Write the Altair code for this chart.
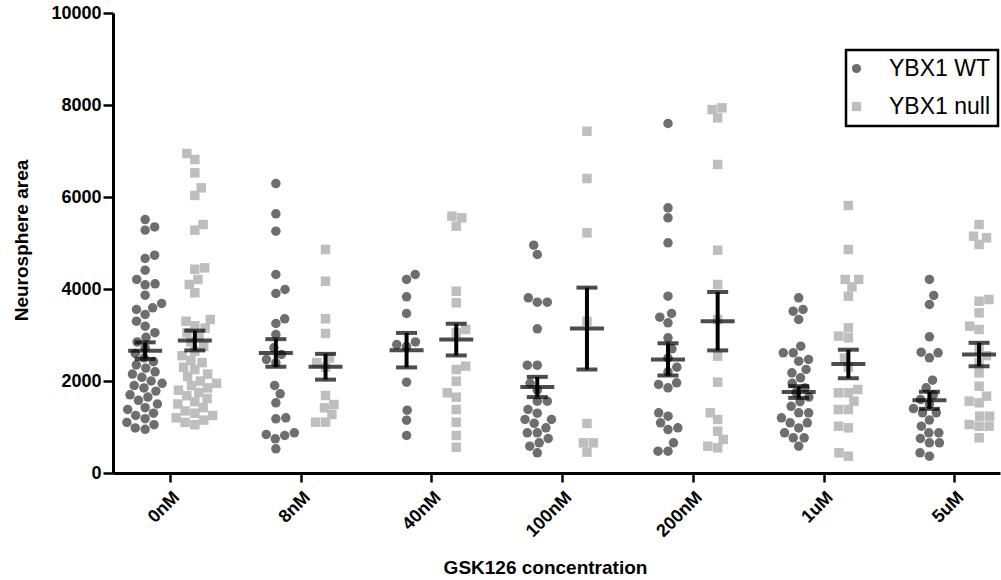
import json
import math
import altair as alt
import pandas as pd

# ---------------- data ----------------
categories = ["0nM", "8nM", "40nM", "100nM", "200nM", "1uM", "5uM"]
groups = ["YBX1 WT", "YBX1 null"]

wt_values = [
    [5510, 5350, 5280, 4735, 4663, 4410, 4207, 4113, 4090, 3866, 3685, 3590, 3554, 3446,
     3300, 3192, 3050, 2950, 2850, 2720, 2600, 2500, 2420, 2350, 2280, 2200, 2150, 2080,
     2000, 1950, 1900, 1850, 1780, 1700, 1650, 1580, 1500, 1420, 1380, 1300, 1250, 1180,
     1100, 1050, 980, 950],
    [6293, 5634, 5257, 4315, 3989, 3902, 3352, 3250, 3011, 2721, 2576, 2467, 2395, 1902,
     1721, 1525, 1200, 1178, 873, 837, 815, 743, 526],
    [4315, 4207, 3830, 3467, 2850, 2793, 2750, 1975, 1366, 1149, 815],
    [4953, 4750, 3808, 3714, 3714, 3134, 2344, 2344, 1950, 1800, 1561, 1561, 1380, 1300,
     1163, 1163, 1080, 982, 873, 873, 750, 656, 583, 439],
    [7598, 5765, 5547, 5004, 3844, 3467, 3388, 3264, 2938, 2700, 2500, 2300, 2200, 1960,
     1924, 1851, 1308, 1235, 1091, 982, 945, 656, 474, 474],
    [3808, 3554, 3518, 3337, 2757, 2613, 2613, 2467, 2431, 2250, 2178, 2069, 1950, 1850,
     1750, 1650, 1550, 1450, 1308, 1308, 1200, 1091, 1091, 980, 873, 765, 765, 583],
    [4207, 3859, 3663, 2961, 2627, 2613, 2504, 2018, 1851, 1700, 1598, 1500, 1400, 1308,
     1308, 1150, 1018, 873, 873, 750, 656, 656, 439, 365],
]
null_values = [
    [6946, 6815, 6525, 6200, 6033, 5402, 5279, 4460, 4430, 4207, 4098, 3917, 3337, 3300,
     3200, 3150, 3050, 2980, 2850, 2750, 2650, 2550, 2450, 2400, 2300, 2250, 2150, 2100,
     2000, 1950, 1900, 1850, 1800, 1750, 1680, 1620, 1550, 1500, 1420, 1350, 1300, 1250,
     1200, 1150, 1100, 1050],
    [4859, 4170, 3352, 3033, 2500, 2400, 2300, 1685, 1489, 1417, 1272, 1105, 1105],
    [5583, 5547, 5366, 3953, 3700, 3120, 3050, 2322, 2250, 1996, 1743, 1648, 1380, 1105,
     815, 561],
    [7431, 6402, 5221, 3300, 1076, 656, 656, 453],
    [7939, 7902, 7721, 6707, 4844, 4098, 3337, 2540, 1975, 1308, 1163, 909, 728, 583, 547],
    [5815, 4859, 4207, 4207, 4047, 3844, 3156, 2975, 2938, 2500, 2300, 1815, 1743, 1743,
     1561, 1380, 1380, 1018, 982, 439, 365],
    [5402, 5148, 5113, 4967, 3772, 3735, 3482, 3192, 3120, 2700, 2550, 2400, 2178, 1887,
     1670, 1561, 1525, 1235, 1235, 1054, 1018, 1018, 765],
]

wt_mean = [2660, 2610, 2670, 1870, 2470, 1760, 1580]
wt_sem = [180, 300, 375, 220, 350, 127, 185]
null_mean = [2880, 2310, 2900, 3140, 3300, 2370, 2575]
null_sem = [215, 280, 345, 890, 635, 310, 255]

# ---------------- layout helpers (beeswarm spreading) ----------------
PLOT_W, PLOT_H = 887, 460
X_DOMAIN = [-0.436, 6.35]
PX_PER_CAT = PLOT_W / (X_DOMAIN[1] - X_DOMAIN[0])
PX_PER_VAL = PLOT_H / 10000.0
GROUP_SHIFT = 0.19
D = 10.0


def swarm(vals):
    placed = []
    offs = [0.0] * len(vals)
    order = sorted(range(len(vals)), key=lambda i: vals[i])
    for k, i in enumerate(order):
        y = vals[i] * PX_PER_VAL
        intervals = []
        for (px, py) in placed:
            dy = abs(py - y)
            if dy < D:
                h = math.sqrt(D * D - dy * dy)
                intervals.append((px - h, px + h))
        cands = [0.0] + [a for a, b in intervals] + [b for a, b in intervals]
        sign = 1 if k % 2 else -1
        cands.sort(key=lambda c: (round(abs(c), 6), sign * c))
        x = 0.0
        for c in cands:
            if all(not (a + 1e-9 < c < b - 1e-9) for a, b in intervals):
                x = c
                break
        placed.append((x, y))
        offs[i] = x
    return offs


rows = []
bars = []
for ci, cat in enumerate(categories):
    for gi, (g, vals, m, s) in enumerate([
        (groups[0], wt_values[ci], wt_mean[ci], wt_sem[ci]),
        (groups[1], null_values[ci], null_mean[ci], null_sem[ci]),
    ]):
        center = ci + (GROUP_SHIFT if gi else -GROUP_SHIFT)
        offs = swarm(vals)
        for v, o in zip(vals, offs):
            rows.append({"x": center + o / PX_PER_CAT, "value": v, "group": g})
        bars.append({"x": center, "mean": m, "lo": m - s, "hi": m + s, "group": g})

pts = pd.DataFrame(rows)
eb = pd.DataFrame(bars)

FONT = "Liberation Sans"
label_expr = json.dumps(categories) + "[datum.value]"

x_enc = alt.X(
    "x:Q",
    scale=alt.Scale(domain=X_DOMAIN, nice=False, zero=False),
    axis=alt.Axis(
        values=list(range(len(categories))),
        labelExpr=label_expr,
        labelAngle=-45,
        labelAlign="right",
        labelBaseline="top",
        labelPadding=6,
        tickSize=9,
        title="GSK126 concentration",
        titleX=432,
        titleY=100,
        titleBaseline="alphabetic",
    ),
)
y_scale = alt.Scale(domain=[0, 10000], nice=False)
y_axis = alt.Axis(
    values=[0, 2000, 4000, 6000, 8000, 10000],
    format="d",
    tickSize=10,
    labelPadding=2,
    title="Neurosphere area",
    titleX=-82,
    titleY=227,
)

points = alt.Chart(pts).mark_point(filled=True, size=90, opacity=1).encode(
    x=x_enc,
    y=alt.Y("value:Q", scale=y_scale, axis=y_axis),
    color=alt.Color(
        "group:N",
        scale=alt.Scale(domain=groups, range=["#6e6e6e", "#bebebe"]),
        title=None,
    ),
    shape=alt.Shape(
        "group:N",
        scale=alt.Scale(domain=groups, range=["circle", "square"]),
        title=None,
    ),
)

LW = 4
base_eb = alt.Chart(eb)
stem = base_eb.mark_rule(color="black", strokeWidth=LW).encode(
    x="x:Q", y="lo:Q", y2="hi:Q"
)
cap_lo = base_eb.mark_tick(color="black", orient="horizontal", size=21, thickness=LW).encode(
    x="x:Q", y="lo:Q"
)
cap_hi = base_eb.mark_tick(color="black", orient="horizontal", size=21, thickness=LW).encode(
    x="x:Q", y="hi:Q"
)
mean_line = base_eb.mark_tick(color="black", orient="horizontal", size=34, thickness=LW).encode(
    x="x:Q", y="mean:Q"
)

chart = (
    alt.layer(points, stem, cap_lo, cap_hi, mean_line)
    .properties(
        width=PLOT_W,
        height=PLOT_H,
        autosize=alt.AutoSizeParams(type="none"),
        padding={"left": 113, "top": 13, "right": 1, "bottom": 107},
        background="white",
    )
    .configure_view(stroke=None)
    .configure_axis(
        grid=False,
        domainColor="black",
        domainWidth=3,
        tickColor="black",
        tickWidth=2.5,
        labelFont=FONT,
        labelFontWeight="bold",
        labelFontSize=18,
        labelColor="black",
        titleFont=FONT,
        titleFontWeight="bold",
        titleFontSize=19,
        titleColor="black",
    )
    .configure_legend(
        orient="none",
        legendX=733,
        legendY=37,
        strokeColor="black",
        strokeWidth=2.5,
        padding=7,
        rowPadding=14,
        labelFont=FONT,
        labelFontSize=23,
        labelColor="black",
        labelOffset=21,
        symbolOffset=-8,
        symbolSize=85,
        symbolStrokeWidth=0,
    )
)

chart.save("out.html", embed_options={"renderer": "svg", "actions": False})
